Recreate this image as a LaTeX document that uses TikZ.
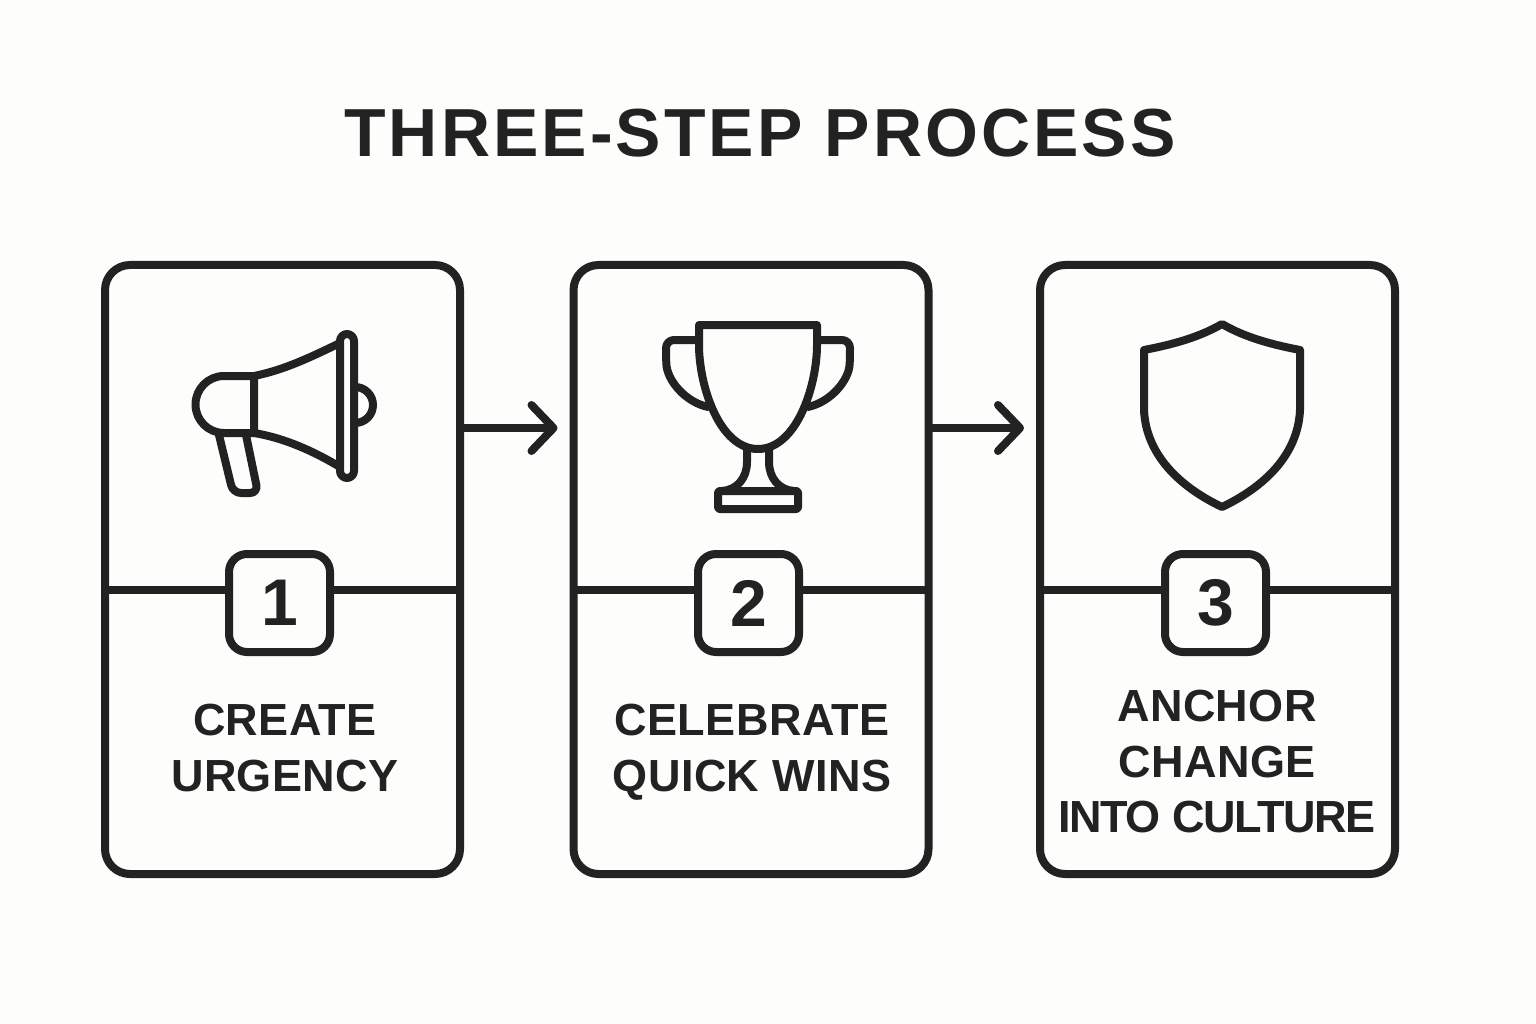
\documentclass[tikz,border=0pt]{standalone}
\usepackage{fontspec}
\setmainfont{Liberation Sans}
\newfontfamily\titlefont[LetterSpace=4.5]{Liberation Sans}
\newfontfamily\labelfont[LetterSpace=1.0]{Liberation Sans}
\newfontfamily\tightlabelfont[LetterSpace=-3.0]{Liberation Sans}
\usetikzlibrary{arrows.meta}
\definecolor{ink}{HTML}{222222}
\definecolor{paper}{HTML}{FDFDFC}
\tikzset{
  stroke/.style={draw=ink,line width=8pt,line join=round,line cap=round},
  card/.style={stroke,rectangle,rounded corners=25pt,minimum width=355pt,minimum height=609pt,outer sep=4pt,inner sep=0pt},
  badge/.style={stroke,fill=paper,rectangle,rounded corners=18pt,minimum width=101pt,minimum height=98pt,outer sep=4pt,inner sep=0pt,text=ink,font=\bfseries\fontsize{66}{66}\selectfont},
  divider/.style={draw=ink,line width=8pt},
  steplabel/.style={text=ink,align=center,inner sep=0pt,font=\labelfont\bfseries\fontsize{45}{55.5}\selectfont},
  flow/.style={draw=ink,line width=8pt,line cap=round,shorten >=12pt,-{Straight Barb[length=22pt,width=46pt,line width=8pt,round]}},
  icon/.style={stroke},
}
\begin{document}
\begin{tikzpicture}[x=1pt,y=-1pt]
\path[fill=paper,use as bounding box] (0,0) rectangle (1536,1024);
\node[anchor=base,text=ink,inner sep=0pt,font=\titlefont\bfseries\fontsize{68}{68}\selectfont] (title) at (760,157) {THREE-STEP PROCESS};
% cards
\node[card] (c1) at (282.5,569.5) {};
\node[card] (c2) at (751,569.5) {};
\node[card] (c3) at (1217.5,569.5) {};
% badges
\node[badge] (b1) at (279.5,603) {1};
\node[badge] (b2) at (748.5,603) {2};
\node[badge] (b3) at (1215.5,603) {3};
% dividers
\coordinate (rule) at (0,590);
\foreach \i in {1,2,3}{
  \draw[divider,shorten <=2pt] (c\i.west |- rule) -- (b\i.west |- rule);
  \draw[divider,shorten >=2pt] (b\i.east |- rule) -- (c\i.east |- rule);
}
% labels
\node[steplabel] (l1) at (285,748) {CREATE\\URGENCY};
\node[steplabel] (l2) at (752,752) {CELEBRATE\\QUICK WINS};
\node[steplabel] (l3) at (1217,762) {ANCHOR\\CHANGE\\{\tightlabelfont INTO CULTURE}};
% arrows
\coordinate (level) at (0,428);
\draw[flow] (c1.east |- level) -- (c2.west |- level);
\draw[flow] (c2.east |- level) -- (c3.west |- level);
% megaphone
\draw[icon] (254,376) -- (224,376) arc[start angle=270,end angle=90,radius=28.5] -- (254,433) -- cycle;
\draw[icon] (254,376) .. controls (285,370) and (315,355) .. (340,343);
\draw[icon] (254,433) .. controls (285,438) and (315,452) .. (340,467);
\draw[icon,rounded corners=7pt] (340,334) rectangle (354,478);
\draw[icon] (355,387) arc[start angle=-90,end angle=90,radius=18];
\draw[icon,rounded corners=8pt] (219,435) -- (233,493) -- (258,493) -- (246,435);
% trophy
\draw[icon] (699,325) -- (817,325) -- (817,345) .. controls (817,385) and (797,449) .. (758,449)
  .. controls (719,449) and (699,385) .. (699,345) -- cycle;
\draw[icon,rounded corners=8pt] (699,340) -- (666,340) -- (666,356) .. controls (667,380) and (685,402) .. (708,407);
\draw[icon,rounded corners=8pt] (817,340) -- (850,340) -- (850,356) .. controls (849,380) and (831,402) .. (808,407);
\draw[icon] (747,449) -- (747,462) .. controls (747,478) and (737,490) .. (722,491);
\draw[icon] (769,449) -- (769,462) .. controls (769,478) and (779,490) .. (794,491);
\draw[icon,rounded corners=2pt] (718,491) rectangle (798,509);
% shield
\draw[icon] (1222,324) .. controls (1198,338) and (1170,345) .. (1144,350) -- (1144,410)
  .. controls (1146,455) and (1180,487) .. (1222,507)
  .. controls (1264,487) and (1298,455) .. (1300,410) -- (1300,350)
  .. controls (1274,345) and (1246,338) .. (1222,324) -- cycle;
\end{tikzpicture}
\end{document}
